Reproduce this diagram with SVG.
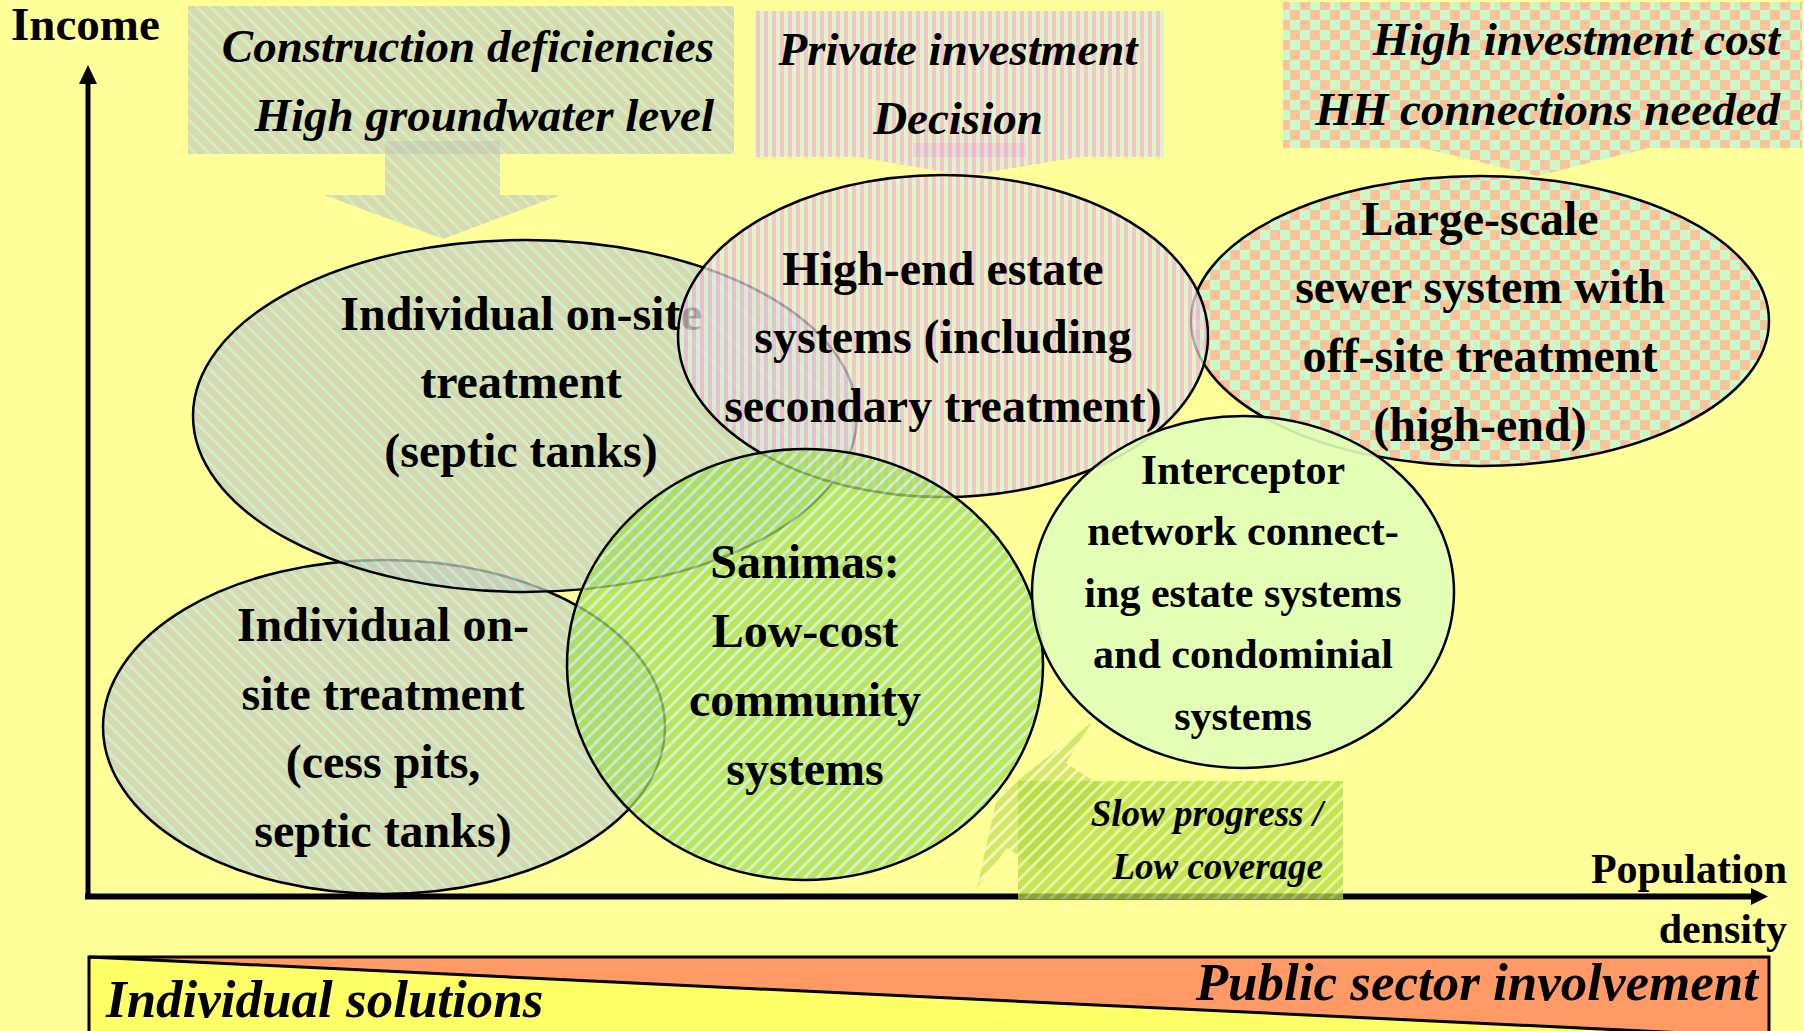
<svg xmlns="http://www.w3.org/2000/svg" width="1804" height="1031" viewBox="0 0 1804 1031">
<defs>
<style>
.b{font-family:'Liberation Serif','Times New Roman',serif;font-weight:bold;fill:#000}
.c{text-anchor:middle}
.e{text-anchor:end}
.i{font-style:italic}
.f48{font-size:48px}
.f47{font-size:47px}
.f42{font-size:42px}
.el{stroke:#000;stroke-width:2.5}
</style>
<pattern id="pBox1" patternUnits="userSpaceOnUse" width="9.5" height="9.5" patternTransform="rotate(-45)">
<rect width="9.5" height="9.5" fill="#D8D9AE"/><rect width="2.6" height="9.5" fill="#CFF0C4"/>
</pattern>
<pattern id="pSep" patternUnits="userSpaceOnUse" width="9.5" height="9.5" patternTransform="rotate(-45)">
<rect width="9.5" height="9.5" fill="#C8CBBA"/><rect width="2.6" height="9.5" fill="#BCEBD5"/>
</pattern>
<pattern id="pBox2" patternUnits="userSpaceOnUse" width="8" height="8">
<rect width="8" height="8" fill="#F4C4D0"/><rect width="4" height="8" fill="#DDF7C3"/>
</pattern>
<pattern id="pHigh" patternUnits="userSpaceOnUse" width="8" height="8">
<rect width="8" height="8" fill="#F0B2E0"/><rect width="4" height="8" fill="#D2F5D1"/>
</pattern>
<pattern id="pBox3" patternUnits="userSpaceOnUse" width="20" height="20">
<rect width="20" height="20" fill="#C8FACB"/><rect width="10" height="10" fill="#FDC29A"/><rect x="10" y="10" width="10" height="10" fill="#FDC29A"/>
</pattern>
<pattern id="pLarge" patternUnits="userSpaceOnUse" width="20" height="20">
<rect width="20" height="20" fill="#B6F8DC"/><rect width="10" height="10" fill="#FCAE9A"/><rect x="10" y="10" width="10" height="10" fill="#FCAE9A"/>
</pattern>
<pattern id="pSan" patternUnits="userSpaceOnUse" width="9" height="9" patternTransform="rotate(45)">
<rect width="9" height="9" fill="#A8DB4C"/><rect width="3" height="9" fill="#BCF2D8"/>
</pattern>
<pattern id="pSlow" patternUnits="userSpaceOnUse" width="9" height="9" patternTransform="rotate(45)">
<rect width="9" height="9" fill="#B4DA38"/><rect width="3" height="9" fill="#D8F2A8"/>
</pattern>
<pattern id="pSlowA" patternUnits="userSpaceOnUse" width="9" height="9" patternTransform="rotate(45)">
<rect width="9" height="9" fill="#C2DE50"/><rect width="3" height="9" fill="#F2F0D0"/>
</pattern>
</defs>

<rect width="1804" height="1031" fill="#FFFF99"/>

<g id="box-construction">
<rect x="188" y="6" width="546" height="148" fill="url(#pBox1)"/>
<polygon points="385,141 500,141 500,195 561,195 443,239 324,195 385,195" fill="url(#pBox1)"/>
<rect x="385" y="141" width="115" height="13" fill="#7080C0" opacity="0.12"/>
<text class="b i e f47" x="714" y="62">Construction deficiencies</text>
<text class="b i e f47" x="714" y="131">High groundwater level</text>
</g>

<g id="box-private">
<rect x="755" y="11" width="409" height="146" fill="url(#pBox2)"/>
<polygon points="913,143 1026,143 1026,157 1079,157 966,176 859,157 913,157" fill="url(#pBox2)"/>
<rect x="913" y="143" width="113" height="14" fill="#E060F0" opacity="0.15"/>
<text class="b i c f47" x="958" y="65">Private investment</text>
<text class="b i c f47" x="958" y="134">Decision</text>
</g>

<g id="box-cost">
<rect x="1283" y="2" width="519" height="146" fill="url(#pBox3)"/>
<polygon points="1418,147 1652,147 1537,176" fill="url(#pBox3)"/>
<text class="b i e f47" x="1780" y="55">High investment cost</text>
<text class="b i e f47" x="1780" y="125">HH connections needed</text>
</g>

<g id="ellipse-cesspits">
<ellipse cx="384" cy="727" rx="281" ry="167" fill="url(#pSep)" fill-opacity="0.75" class="el"/>
<text class="b c f48" x="383" y="641">Individual on-</text>
<text class="b c f48" x="383" y="710">site treatment</text>
<text class="b c f48" x="383" y="778">(cess pits,</text>
<text class="b c f48" x="383" y="847">septic tanks)</text>
</g>

<g id="ellipse-septic">
<ellipse cx="525" cy="416" rx="332" ry="176" fill="url(#pSep)" fill-opacity="0.75" class="el"/>
<text class="b c f48" x="521" y="330">Individual on-site</text>
<text class="b c f48" x="521" y="398">treatment</text>
<text class="b c f48" x="521" y="467">(septic tanks)</text>
</g>

<g id="ellipse-largescale">
<ellipse cx="1480" cy="321" rx="289" ry="145" fill="url(#pLarge)" fill-opacity="0.75" class="el"/>
<text class="b c f48" x="1480" y="235">Large-scale</text>
<text class="b c f48" x="1480" y="303">sewer system with</text>
<text class="b c f48" x="1480" y="372">off-site treatment</text>
<text class="b c f48" x="1480" y="441">(high-end)</text>
</g>

<g id="ellipse-highend">
<ellipse cx="943" cy="336" rx="265" ry="161" fill="url(#pHigh)" fill-opacity="0.75" class="el"/>
<text class="b c f48" x="943" y="285">High-end estate</text>
<text class="b c f48" x="943" y="353">systems (including</text>
<text class="b c f48" x="943" y="422">secondary treatment)</text>
</g>

<g id="ellipse-sanimas">
<ellipse cx="805" cy="664.5" rx="238" ry="215.5" fill="url(#pSan)" fill-opacity="0.75" class="el"/>
<text class="b c f48" x="805" y="578">Sanimas:</text>
<text class="b c f48" x="805" y="647">Low-cost</text>
<text class="b c f48" x="805" y="716">community</text>
<text class="b c f48" x="805" y="785">systems</text>
</g>

<g id="ellipse-interceptor">
<ellipse cx="1243" cy="592" rx="211" ry="176" fill="#E0FFB9" fill-opacity="0.9" class="el"/>
<text class="b c f42" x="1243" y="484">Interceptor</text>
<text class="b c f42" x="1243" y="545">network connect-</text>
<text class="b c f42" x="1243" y="607">ing estate systems</text>
<text class="b c f42" x="1243" y="668">and condominial</text>
<text class="b c f42" x="1243" y="730">systems</text>
</g>

<g id="connectors">
<line x1="88" y1="899" x2="88" y2="80" stroke="#000" stroke-width="5"/>
<polygon points="88,65 97,84 79,84" fill="#000"/>
<line x1="85" y1="896.5" x2="1753" y2="896.5" stroke="#000" stroke-width="6"/>
<polygon points="1768,896.5 1751,888 1751,905" fill="#000"/>
</g>

<g id="axis-labels">
<text class="b f47" x="11" y="40">Income</text>
<text class="b e f42" x="1787" y="883">Population</text>
<text class="b e f42" x="1787" y="943">density</text>
</g>

<g id="box-slow">
<polygon points="1092,722 1066,763 1103,787 1045,873 1007,848 977,888 997,797" fill="url(#pSlowA)" fill-opacity="0.7"/>
<rect x="1018" y="781" width="325" height="118" fill="url(#pSlow)" fill-opacity="0.75"/>
<text class="b i e" font-size="37" x="1323" y="826">Slow progress /</text>
<text class="b i e" font-size="37" x="1323" y="879">Low coverage</text>
</g>

<g id="band">
<rect x="89" y="957" width="1680" height="90" fill="#FFFF66"/>
<polygon points="89,957 1769,957 1769,1037" fill="#FF9966"/>
<line x1="89" y1="957" x2="1769" y2="1037" stroke="#000" stroke-width="3"/>
<rect x="89" y="957" width="1680" height="90" fill="none" stroke="#000" stroke-width="3"/>
<text class="b i" font-size="53" x="106" y="1017">Individual solutions</text>
<text class="b i e" font-size="53" x="1758" y="1000">Public sector involvement</text>
</g>
</svg>
